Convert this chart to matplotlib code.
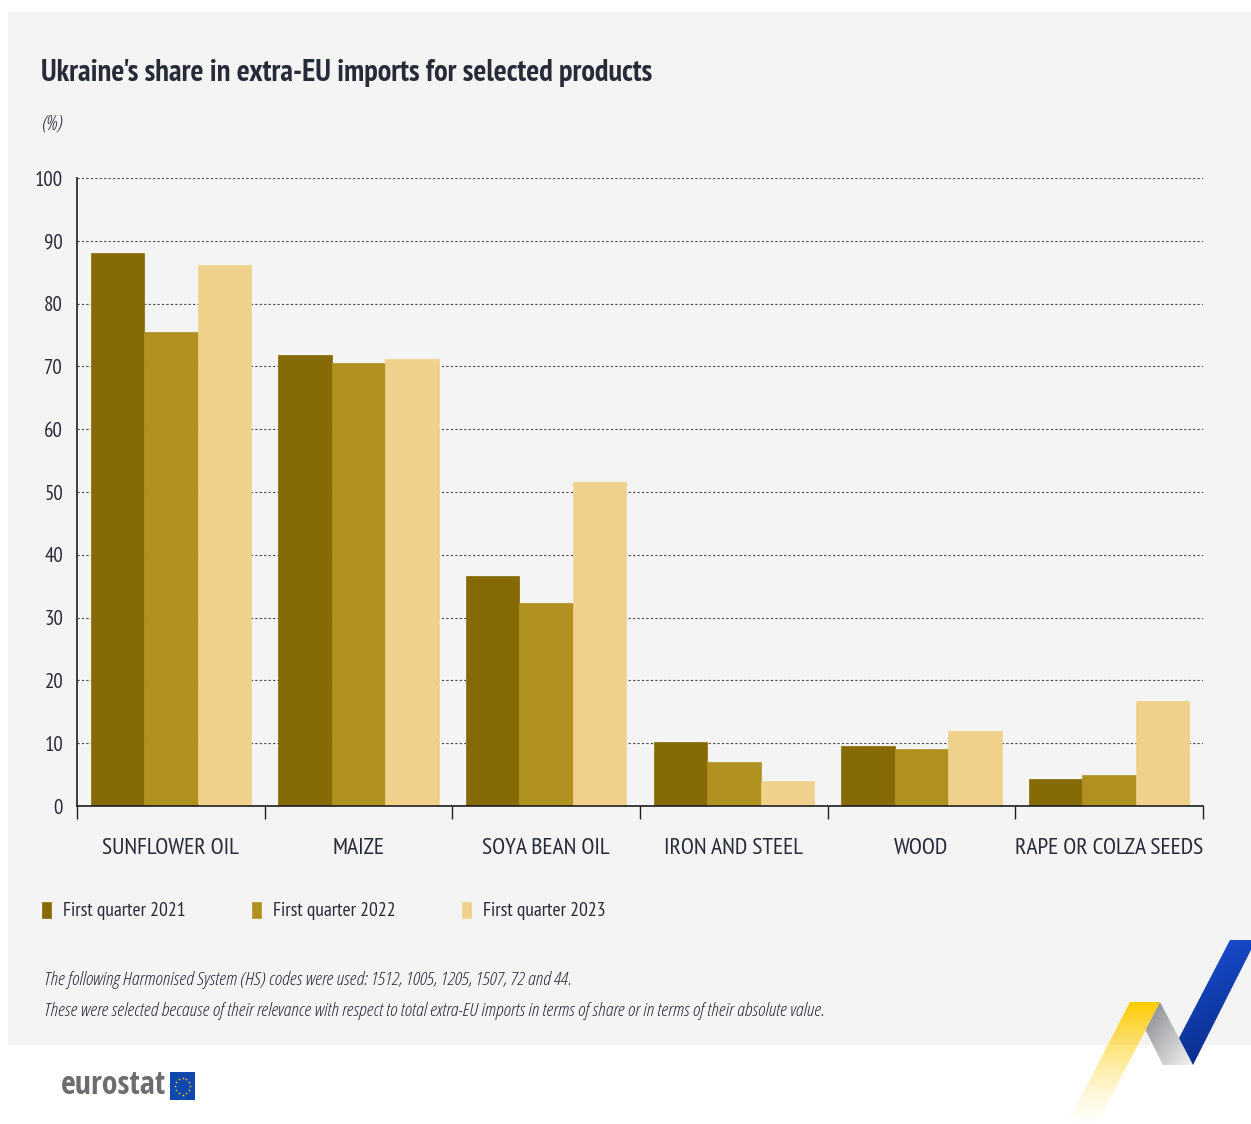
import matplotlib

matplotlib.use("Agg")
import matplotlib.pyplot as plt
import numpy as np
from matplotlib.colors import to_rgb
from matplotlib.patches import Polygon, Rectangle

W, H = 1251, 1124

products = [
    "SUNFLOWER OIL",
    "MAIZE",
    "SOYA BEAN OIL",
    "IRON AND STEEL",
    "WOOD",
    "RAPE OR COLZA SEEDS",
]
periods = ["First quarter 2021", "First quarter 2022", "First quarter 2023"]
q1_2021 = [88.1, 71.8, 36.6, 10.2, 9.6, 4.3]
q1_2022 = [75.5, 70.5, 32.3, 7.0, 9.1, 4.9]
q1_2023 = [86.1, 71.2, 51.6, 4.0, 11.9, 16.7]
colors = ["#866a05", "#b0901f", "#f0d18b"]
yticks = list(range(0, 101, 10))

title = "Ukraine's share in extra-EU imports for selected products"
unit = "(%)"
notes = [
    "The following Harmonised System (HS) codes were used: 1512, 1005, 1205, 1507, 72 and 44.",
    "These were selected because of their relevance with respect to total extra-EU imports "
    "in terms of share or in terms of their absolute value.",
]

NARROW = ["PT Sans Narrow", "Open Sans Condensed", "Liberation Sans Narrow", "DejaVu Sans"]
ITALIC = ["Open Sans", "DejaVu Sans"]
plt.rcParams["font.family"] = NARROW
TEXT = "#272b38"


def fx(px):
    return px / W


def fy(py):
    return 1 - py / H


def gradient_poly(axis, pts, start, end, alphas=(1.0, 1.0), direction=(0, 1)):
    """Fill a polygon with a linear colour gradient (decoration only)."""
    poly = Polygon(pts, closed=True, facecolor="none", edgecolor="none")
    axis.add_patch(poly)
    xs, ys = zip(*pts)
    gx, gy = np.meshgrid(np.linspace(0, 1, 80), np.linspace(0, 1, 80))
    t = (gx * direction[0] + gy * direction[1]) / (direction[0] + direction[1])
    rgba = np.zeros((80, 80, 4))
    for k in range(3):
        rgba[..., k] = to_rgb(start)[k] * (1 - t) + to_rgb(end)[k] * t
    rgba[..., 3] = alphas[0] * (1 - t) + alphas[1] * t
    img = axis.imshow(
        rgba,
        extent=(min(xs), max(xs), max(ys), min(ys)),
        origin="upper",
        aspect="auto",
        interpolation="bilinear",
        zorder=2,
    )
    img.set_clip_path(poly)


fig = plt.figure(figsize=(W / 100, H / 100), dpi=100)
fig.patch.set_facecolor("white")

# background panel, ribbon and logo
deco = fig.add_axes([0, 0, 1, 1])
deco.axis("off")
deco.add_patch(Rectangle((8, 12), W - 8, 1045 - 12, color="#f4f4f4", lw=0, zorder=0))
gradient_poly(
    deco,
    [(1130, 1002), (1160, 1002), (1097, 1124), (1067, 1124)],
    "#ffcc00", "#ffe680", alphas=(1.0, 0.0),
)
gradient_poly(
    deco,
    [(1160, 1002), (1193, 1065), (1163, 1065), (1145.5, 1030)],
    "#85868b", "#f4f4f4", direction=(1, 1),
)
gradient_poly(
    deco,
    [(1179, 1038), (1230, 940), (1256, 940), (1193, 1065)],
    "#1a50d8", "#07287c", direction=(0.3, 1),
)
deco.text(166, 1086, "eurostat", fontsize=23, fontweight="bold", color="#6c6d71",
          va="center", ha="right", family=["Open Sans Condensed", "PT Sans Narrow", "DejaVu Sans"])
deco.add_patch(Rectangle((170, 1072), 25, 28, color="#0f47af", lw=0, zorder=3))
ang = np.linspace(0, 2 * np.pi, 13)[:-1]
deco.scatter(182.5 + 7.5 * np.cos(ang), 1086 + 8.5 * np.sin(ang), s=4, marker="*",
             color="#ffdd00", zorder=4, linewidths=0)
deco.set_xlim(0, W)
deco.set_ylim(H, 0)

# chart
ax = fig.add_axes([fx(77), fy(806), fx(1203 - 77), (806 - 178) / H])
ax.set_facecolor("none")
x = np.arange(len(products))
width = 0.285
for i, (vals, label, color) in enumerate(zip([q1_2021, q1_2022, q1_2023], periods, colors)):
    ax.bar(x + (i - 1) * width, vals, width, color=color, label=label,
           edgecolor=color, linewidth=0.5, zorder=2)

ax.set_xlim(-0.5, len(products) - 0.5)
ax.set_ylim(0, 100)
ax.set_yticks(yticks)
ax.yaxis.grid(True, linestyle=(0, (2, 2)), color="#4a4a4a", linewidth=0.8)
ax.set_axisbelow(True)
for side in ["top", "right"]:
    ax.spines[side].set_visible(False)
for side in ["left", "bottom"]:
    ax.spines[side].set_color("#1e1e1e")
    ax.spines[side].set_linewidth(1.2)
ax.tick_params(axis="y", length=0, pad=10, labelsize=15, labelcolor=TEXT)
ax.set_xticks(x)
ax.set_xticklabels(products)
ax.set_xticks(np.arange(-0.5, len(products)), minor=True)
ax.tick_params(axis="x", which="major", length=0, pad=23, labelsize=17, labelcolor=TEXT)
ax.tick_params(axis="x", which="minor", length=9, width=1, color="#1e1e1e")

fig.text(fx(41), fy(73), title, fontsize=22, fontweight="bold", color=TEXT, va="center")
fig.text(fx(42), fy(125), unit, fontsize=15, style="italic", fontstretch="condensed",
         family=ITALIC, color=TEXT, va="center")

handles, labels = ax.get_legend_handles_labels()
fig.legend(handles, labels, loc="center left", bbox_to_anchor=(fx(24), fy(911)), ncol=3,
           frameon=False, fontsize=14, handlelength=0.5, handleheight=0.9,
           handletextpad=0.6, columnspacing=3.4, labelcolor=TEXT)

for note, py in zip(notes, [980, 1011]):
    fig.text(fx(44), fy(py), note, fontsize=14, style="italic", fontstretch="condensed",
             family=ITALIC, color=TEXT, va="center")

fig.savefig("out.png", dpi=100)
